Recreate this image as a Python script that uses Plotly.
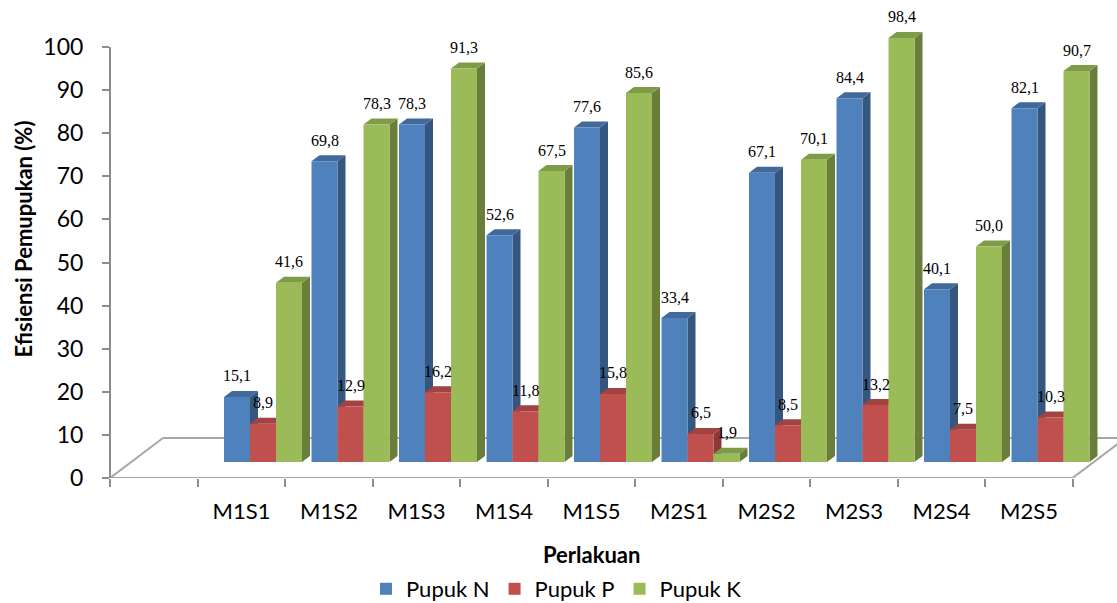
import plotly.graph_objects as go

# ---------------- data ----------------
categories = ["M1S1", "M1S2", "M1S3", "M1S4", "M1S5",
              "M2S1", "M2S2", "M2S3", "M2S4", "M2S5"]
pupuk_n = [15.1, 69.8, 78.3, 52.6, 77.6, 33.4, 67.1, 84.4, 40.1, 82.1]
pupuk_p = [8.9, 12.9, 16.2, 11.8, 15.8, 6.5, 8.5, 13.2, 7.5, 10.3]
pupuk_k = [41.6, 78.3, 91.3, 67.5, 85.6, 1.9, 70.1, 98.4, 50.0, 90.7]
series_names = ["Pupuk N", "Pupuk P", "Pupuk K"]
y_tick_values = [0, 10, 20, 30, 40, 50, 60, 70, 80, 90, 100]

# ---------------- styles ----------------
front_colors = ["#4F81BD", "#C0504D", "#9BBB59"]
side_colors = ["#34567F", "#8C3A38", "#697E3A"]
top_colors = ["#41699C", "#A04341", "#7E9B48"]
axis_gray = "#8C8C8C"
floor_gray = "#A6A6A6"
FONT = "Lato"

W, H = 1117, 603
ML, MR, MT, MB = 110, 0, 0, 125
PW = W - ML - MR
PH = H - MT - MB
PX_CAT = 87.5                 # pixels per category
PX_UNIT = 4.31                # pixels per y unit
span = PW / PX_CAT
y_top = PH / PX_UNIT          # value at top of plot area
y_max = y_tick_values[-1]

label_off = (241.5 - ML) / PX_CAT      # label centre of first category
bar_off = (263.0 - ML) / PX_CAT        # bar group centre (perspective depth)
base_shift = 16.0 / PX_UNIT            # bar floor above front edge
bar_w = 26.0 / PX_CAT
dx = 8.0 / PX_CAT                      # 3D side depth
dy = 6.0 / PX_UNIT
floor_dx = 53.0 / PX_CAT
floor_dy = 40.0 / PX_UNIT

series = [pupuk_n, pupuk_p, pupuk_k]
idx = list(range(len(categories)))

fig = go.Figure()

# 3D side and top faces (drawn beneath the front faces)
for j, vals in enumerate(series):
    sx, sy, tx, ty = [], [], [], []
    for i, v in zip(idx, vals):
        L = i + (j - 1) * bar_w - bar_w / 2
        R = L + bar_w
        sx += [R, R, R + dx, R + dx, R, None]
        sy += [0, v, v + dy, dy, 0, None]
        tx += [L, R, R + dx, L + dx, L, None]
        ty += [v, v, v + dy, v + dy, v, None]
    fig.add_trace(go.Scatter(x=sx, y=sy, fill="toself", mode="lines",
                             line=dict(width=0), fillcolor=side_colors[j],
                             xaxis="x2", yaxis="y2", showlegend=False,
                             hoverinfo="skip"))
    fig.add_trace(go.Scatter(x=tx, y=ty, fill="toself", mode="lines",
                             line=dict(width=0), fillcolor=top_colors[j],
                             xaxis="x2", yaxis="y2", showlegend=False,
                             hoverinfo="skip"))

# front faces
for j, vals in enumerate(series):
    fig.add_trace(go.Bar(x=idx, y=vals, name=series_names[j],
                         marker=dict(color=front_colors[j], line=dict(width=0)),
                         xaxis="x3", yaxis="y3"))

# dummy traces so that helper axes are rendered
fig.add_trace(go.Scatter(x=[None], y=[None], xaxis="x", yaxis="y",
                         showlegend=False, hoverinfo="skip"))
fig.add_trace(go.Scatter(x=[None], y=[None], xaxis="x4", yaxis="y",
                         showlegend=False, hoverinfo="skip"))

# data labels
annotations = []
for j, vals in enumerate(series):
    for i, v in zip(idx, vals):
        annotations.append(dict(
            x=i + (j - 1) * bar_w, y=v, xref="x3", yref="y3",
            text=f"{v:.1f}".replace(".", ","), showarrow=False,
            yshift=21, font=dict(family="Liberation Serif", size=16, color="#000")))

annotations.append(dict(
    text="<b>Perlakuan</b>", xref="paper", yref="paper",
    x=(591 - ML) / PW, y=(MT + PH - 554) / PH, xanchor="center", yanchor="middle",
    showarrow=False, font=dict(family=FONT, size=22, color="#000")))

# floor (perspective parallelogram) and value-axis line
n_bound = len(categories) + 1
shapes = []
corners = [(0, 0), (n_bound, 0), (n_bound + floor_dx, floor_dy), (floor_dx, floor_dy)]
for a, b in [(0, 1), (1, 2), (2, 3), (3, 0)]:
    shapes.append(dict(type="line", xref="x4", yref="y",
                       x0=corners[a][0], y0=corners[a][1],
                       x1=corners[b][0], y1=corners[b][1],
                       line=dict(color=floor_gray, width=2), layer="below"))
shapes.append(dict(type="line", xref="paper", yref="y", x0=0, x1=0, y0=0, y1=y_max,
                   line=dict(color=axis_gray, width=2), layer="above"))

fig.update_layout(
    width=W, height=H, autosize=False,
    margin=dict(l=ML, r=MR, t=MT, b=MB, pad=0, autoexpand=False),
    paper_bgcolor="white", plot_bgcolor="white",
    barmode="group", bargap=1 - 3 * bar_w, bargroupgap=0,
    font=dict(family=FONT, color="#000"),
    showlegend=True,
    legend=dict(orientation="h", x=(366 - ML) / PW, xanchor="left",
                y=(MT + PH - 589) / PH, yanchor="middle",
                font=dict(family=FONT, size=22, color="#000"),
                bgcolor="rgba(0,0,0,0)"),
    xaxis=dict(range=[-label_off, span - label_off], tickvals=idx, ticktext=categories,
               showline=False, showgrid=False, zeroline=False, ticks="",
               ticklabelstandoff=18, automargin=False,
               tickfont=dict(family=FONT, size=22, color="#000")),
    xaxis2=dict(range=[-bar_off, span - bar_off], overlaying="x", anchor="y2",
                visible=False),
    xaxis3=dict(range=[-bar_off, span - bar_off], overlaying="x", anchor="y3",
                visible=False),
    xaxis4=dict(range=[0, span], overlaying="x", anchor="y",
                tickvals=list(range(n_bound + 1)), showticklabels=False,
                ticks="outside", ticklen=8, tickcolor=axis_gray, tickwidth=2,
                showline=False, showgrid=False, zeroline=False, automargin=False),
    yaxis=dict(range=[0, y_top], tickvals=y_tick_values, showgrid=False,
               zeroline=False, showline=False,
               ticks="outside", ticklen=7, tickcolor=axis_gray, tickwidth=2,
               ticklabelstandoff=14, automargin=False,
               tickfont=dict(family=FONT, size=23, color="#000"),
               title=dict(text="<b>Efisiensi Pemupukan (%)</b>", standoff=4,
                          font=dict(family=FONT, size=22, color="#000"))),
    yaxis2=dict(range=[-base_shift, y_top - base_shift], overlaying="y", anchor="x2",
                visible=False),
    yaxis3=dict(range=[-base_shift, y_top - base_shift], overlaying="y", anchor="x3",
                visible=False),
    annotations=annotations,
    shapes=shapes,
)

fig.write_html("out.html")
